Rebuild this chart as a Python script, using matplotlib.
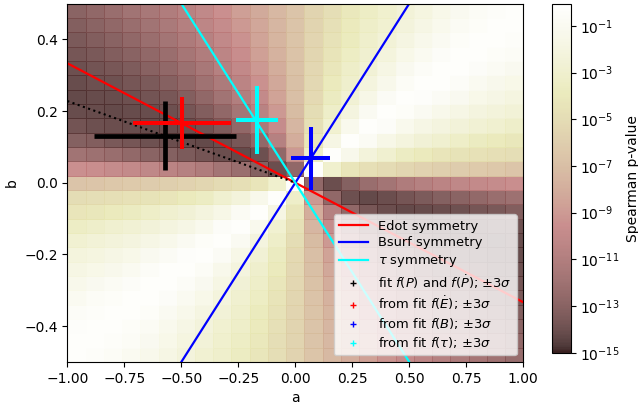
import numpy as np
import matplotlib
matplotlib.use("Agg")
import matplotlib.pyplot as plt
from matplotlib.colors import LogNorm

# ---------------- data ----------------
# cell edges of the (a, b) grid
a_edges = np.linspace(-1.0, 1.0, 26)
b_edges = np.linspace(-0.5, 0.5, 26)

# log10 of the Spearman p-value in each cell, rows listed from top (b=0.48) to bottom (b=-0.48)
log_p_top_to_bottom = [
    [-12.9, -12.65, -12.3, -11.9, -11.5, -11.1, -10.6, -10.1, -9.5, -8.8, -8.2, -7.4, -6.6, -5.6, -4.8, -4.1, -3.5, -3.0, -2.5, -2.0, -1.5, -1.1, -0.7, -0.45, -0.3],
    [-13.2, -12.95, -12.65, -12.3, -11.85, -11.4, -10.9, -10.35, -9.75, -9.1, -8.35, -7.5, -6.6, -5.6, -4.7, -4.0, -3.3, -2.85, -2.25, -1.7, -1.2, -0.8, -0.5, -0.3, -0.3],
    [-13.5, -13.25, -13.0, -12.65, -12.25, -11.8, -11.25, -10.7, -10.05, -9.35, -8.5, -7.6, -6.7, -5.5, -4.6, -3.8, -3.1, -2.55, -1.9, -1.35, -0.9, -0.5, -0.3, -0.3, -0.45],
    [-13.7, -13.55, -13.3, -13.0, -12.65, -12.2, -11.65, -11.1, -10.4, -9.65, -8.75, -7.75, -6.75, -5.45, -4.45, -3.55, -2.95, -2.2, -1.5, -1.0, -0.55, -0.3, -0.3, -0.5, -0.7],
    [-13.95, -13.8, -13.65, -13.4, -13.05, -12.65, -12.1, -11.5, -10.8, -10.0, -9.1, -8.0, -6.8, -5.4, -4.25, -3.3, -2.6, -1.8, -1.1, -0.6, -0.3, -0.3, -0.55, -0.8, -1.1],
    [-14.1, -14.0, -13.9, -13.7, -13.5, -13.1, -12.65, -12.0, -11.3, -10.45, -9.45, -8.3, -6.9, -5.3, -4.0, -3.05, -2.15, -1.3, -0.65, -0.3, -0.35, -0.6, -0.95, -1.25, -1.55],
    [-14.2, -14.15, -14.1, -14.0, -13.8, -13.6, -13.2, -12.65, -11.9, -11.0, -9.95, -8.6, -7.0, -5.2, -3.7, -2.65, -1.6, -0.75, -0.3, -0.4, -0.75, -1.1, -1.5, -1.75, -2.0],
    [-14.1, -14.15, -14.2, -14.15, -14.1, -13.95, -13.7, -13.3, -12.65, -11.7, -10.6, -9.1, -7.2, -5.0, -3.3, -2.05, -0.9, -0.3, -0.5, -0.9, -1.35, -1.75, -2.05, -2.3, -2.55],
    [-13.8, -13.95, -14.05, -14.1, -14.2, -14.15, -14.1, -13.85, -13.4, -12.65, -11.4, -9.75, -7.5, -4.7, -2.85, -1.2, -0.3, -0.55, -1.2, -1.7, -2.1, -2.4, -2.7, -2.95, -3.25],
    [-13.15, -13.3, -13.55, -13.7, -13.9, -14.05, -14.15, -14.2, -14.05, -13.65, -12.65, -10.8, -8.0, -4.25, -1.8, -0.3, -0.8, -1.6, -2.15, -2.6, -2.95, -3.35, -3.7, -3.95, -4.15],
    [-11.9, -12.05, -12.3, -12.6, -12.9, -13.15, -13.45, -13.75, -14.05, -14.2, -13.95, -12.65, -9.1, -3.3, -0.3, -1.35, -2.3, -2.95, -3.6, -4.0, -4.3, -4.5, -4.65, -4.75, -4.9],
    [-9.5, -9.6, -9.75, -9.95, -10.2, -10.5, -10.8, -11.2, -11.75, -12.3, -13.15, -14.05, -12.65, -0.3, -3.0, -4.3, -4.75, -5.1, -5.45, -5.7, -5.9, -6.1, -6.3, -6.4, -6.55],
    [-6.65, -6.55, -6.4, -6.3, -6.1, -5.9, -5.7, -5.45, -5.1, -4.75, -4.3, -3.0, -0.3, -12.65, -14.05, -13.15, -12.3, -11.75, -11.2, -10.8, -10.5, -10.2, -9.95, -9.75, -9.6],
    [-5.0, -4.9, -4.75, -4.65, -4.5, -4.3, -4.0, -3.6, -2.95, -2.3, -1.35, -0.3, -3.3, -9.1, -12.65, -13.95, -14.2, -14.05, -13.75, -13.45, -13.15, -12.9, -12.6, -12.3, -12.05],
    [-4.3, -4.15, -3.95, -3.7, -3.35, -2.95, -2.6, -2.15, -1.6, -0.8, -0.3, -1.8, -4.25, -8.0, -10.8, -12.65, -13.65, -14.05, -14.2, -14.15, -14.05, -13.9, -13.7, -13.55, -13.3],
    [-3.5, -3.25, -2.95, -2.7, -2.4, -2.1, -1.7, -1.2, -0.55, -0.3, -1.2, -2.85, -4.7, -7.5, -9.75, -11.4, -12.65, -13.4, -13.85, -14.1, -14.15, -14.2, -14.1, -14.05, -13.95],
    [-2.75, -2.55, -2.3, -2.05, -1.75, -1.35, -0.9, -0.5, -0.3, -0.9, -2.05, -3.3, -5.0, -7.2, -9.1, -10.6, -11.7, -12.65, -13.3, -13.7, -13.95, -14.1, -14.15, -14.2, -14.15],
    [-2.2, -2.0, -1.75, -1.5, -1.1, -0.75, -0.4, -0.3, -0.75, -1.6, -2.65, -3.7, -5.2, -7.0, -8.6, -9.95, -11.0, -11.9, -12.65, -13.2, -13.6, -13.8, -14.0, -14.1, -14.15],
    [-1.8, -1.55, -1.25, -0.95, -0.6, -0.35, -0.3, -0.65, -1.3, -2.15, -3.05, -4.0, -5.3, -6.9, -8.3, -9.45, -10.45, -11.3, -12.0, -12.65, -13.1, -13.5, -13.7, -13.9, -14.0],
    [-1.35, -1.1, -0.8, -0.55, -0.3, -0.3, -0.6, -1.1, -1.8, -2.6, -3.3, -4.25, -5.4, -6.8, -8.0, -9.1, -10.0, -10.8, -11.5, -12.1, -12.65, -13.05, -13.4, -13.65, -13.8],
    [-0.95, -0.7, -0.5, -0.3, -0.3, -0.55, -1.0, -1.5, -2.2, -2.95, -3.55, -4.45, -5.45, -6.75, -7.75, -8.75, -9.65, -10.4, -11.1, -11.65, -12.2, -12.65, -13.0, -13.3, -13.55],
    [-0.6, -0.45, -0.3, -0.3, -0.5, -0.9, -1.35, -1.9, -2.55, -3.1, -3.8, -4.6, -5.5, -6.7, -7.6, -8.5, -9.35, -10.05, -10.7, -11.25, -11.8, -12.25, -12.65, -13.0, -13.25],
    [-0.4, -0.3, -0.3, -0.5, -0.8, -1.2, -1.7, -2.25, -2.85, -3.3, -4.0, -4.7, -5.6, -6.6, -7.5, -8.35, -9.1, -9.75, -10.35, -10.9, -11.4, -11.85, -12.3, -12.65, -12.95],
    [-0.3, -0.3, -0.45, -0.7, -1.1, -1.5, -2.0, -2.5, -3.0, -3.5, -4.1, -4.8, -5.6, -6.6, -7.4, -8.2, -8.8, -9.5, -10.1, -10.6, -11.1, -11.5, -11.9, -12.3, -12.65],
    [-0.3, -0.45, -0.7, -1.0, -1.35, -1.8, -2.25, -2.75, -3.15, -3.65, -4.25, -4.9, -5.65, -6.55, -7.3, -8.0, -8.65, -9.3, -9.85, -10.35, -10.8, -11.25, -11.65, -12.0, -12.35],
]

# symmetry lines b = slope * a
line_a = [-1.0, 1.0]
edot_slope = -1.0 / 3.0
bsurf_slope = 1.0
tau_slope = -1.0
# dotted best-correlation line (a from -1 to 0)
dotted_a = [-1.0, 0.0]
dotted_slope = -0.228

# fitted points with +-3 sigma
fit_labels = [r"fit $f(P)$ and $f(\dot{P})$; $\pm3\sigma$",
              r"from fit $f(\dot{E})$; $\pm3\sigma$",
              r"from fit $f(B)$; $\pm3\sigma$",
              r"from fit $f(\tau)$; $\pm3\sigma$"]
fit_a = [-0.572, -0.497, 0.067, -0.169]
fit_b = [0.131, 0.166, 0.068, 0.175]
fit_aerr = [0.312, 0.214, 0.087, 0.093]
fit_berr = [0.096, 0.073, 0.088, 0.094]
fit_colors = ["black", "red", "blue", "cyan"]
fit_lw = [3.4, 2.9, 2.9, 2.9]

# ---------------- plot ----------------
pvals = 10.0 ** np.array(log_p_top_to_bottom)[::-1]

fig = plt.figure(figsize=(6.38, 4.08), dpi=100)
ax = fig.add_axes([0.1055, 0.1127, 0.7147, 0.8787])
cax = fig.add_axes([0.8657, 0.1355, 0.0288, 0.8547])

norm = LogNorm(vmin=1e-15, vmax=10 ** -0.06)
mesh = ax.pcolormesh(a_edges, b_edges, pvals, cmap="pink", norm=norm,
                     alpha=0.87, edgecolors="face", linewidth=0.4,
                     shading="flat")

la = np.array(line_a)
ax.plot(la, edot_slope * la, color="red", lw=1.6, label="Edot symmetry")
ax.plot(la, bsurf_slope * la, color="blue", lw=1.6, label="Bsurf symmetry")
ax.plot(la, tau_slope * la, color="cyan", lw=1.6, label=r"$\tau$ symmetry")
da = np.array(dotted_a)
ax.plot(da, dotted_slope * da, color="black", ls=":", lw=1.5)

for x, y, xe, ye, c, lw, lab in zip(fit_a, fit_b, fit_aerr, fit_berr,
                                    fit_colors, fit_lw, fit_labels):
    ax.errorbar(x, y, xerr=xe, yerr=ye, fmt="none", ecolor=c, elinewidth=lw,
                capsize=0)
    ax.plot([x], [y], "+", color=c, ms=4, mew=1, label=lab)

ax.set_xlim(-1, 1)
ax.set_ylim(-0.5, 0.5)
ax.set_xlabel("a")
ax.set_ylabel("b")
ax.legend(loc="lower right", fontsize=9.4, labelspacing=0.3,
          handlelength=2.2)

cbar = fig.colorbar(mesh, cax=cax)
cbar.set_ticks([10.0 ** k for k in range(-15, 0, 2)])
cbar.ax.minorticks_off()
cbar.set_label("Spearman p-value")

fig.savefig("out.png", dpi=100)
